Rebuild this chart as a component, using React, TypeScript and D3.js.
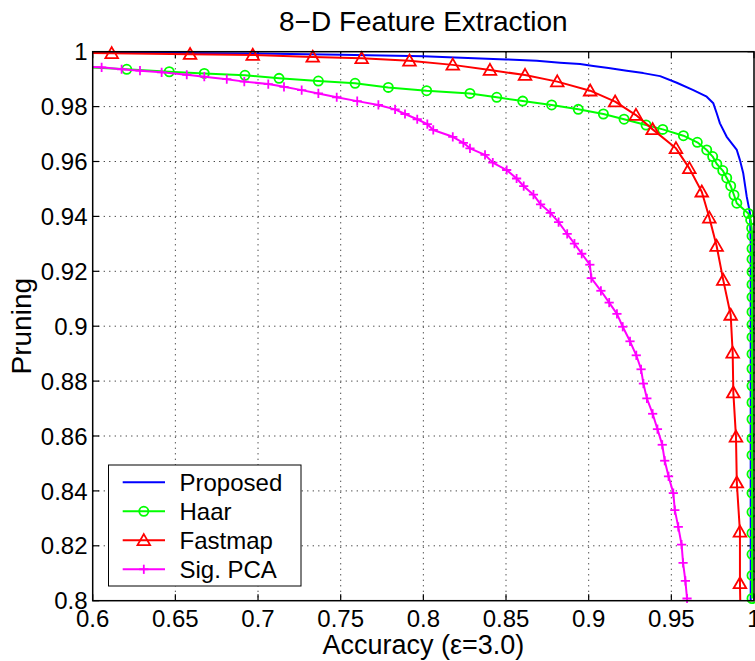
import React from 'react';
import * as d3 from 'd3';

const title = '8\u2212D Feature Extraction';
const xLabel = 'Accuracy (\u03b5=3.0)';
const yLabel = 'Pruning';

const xTicks = [0.6, 0.65, 0.7, 0.75, 0.8, 0.85, 0.9, 0.95, 1];
const xTickLabels = ['0.6', '0.65', '0.7', '0.75', '0.8', '0.85', '0.9', '0.95', '1'];
const yTicks = [0.8, 0.82, 0.84, 0.86, 0.88, 0.9, 0.92, 0.94, 0.96, 0.98, 1];
const yTickLabels = ['0.8', '0.82', '0.84', '0.86', '0.88', '0.9', '0.92', '0.94', '0.96', '0.98', '1'];

const seriesNames = ['Proposed', 'Haar', 'Fastmap', 'Sig. PCA'];
const seriesColors = ['#0000ff', '#00ff00', '#ff0000', '#ff00ff'];
const seriesMarkers = ['none', 'circle', 'triangle', 'plus'];

const proposedX = [0.6, 0.65, 0.7, 0.75, 0.8, 0.85, 0.8686, 0.8827, 0.8948, 0.9028, 0.912, 0.923, 0.933, 0.9432, 0.9533, 0.9633, 0.9714, 0.9754, 0.9775, 0.9794, 0.9835, 0.9896, 0.9915, 0.9935, 0.9956, 0.9976, 0.998, 0.998];
const proposedY = [0.9997, 0.9995, 0.9993, 0.9989, 0.9983, 0.9972, 0.9967, 0.996, 0.9955, 0.9948, 0.9941, 0.9931, 0.9922, 0.9911, 0.9887, 0.986, 0.9836, 0.9812, 0.9775, 0.9739, 0.969, 0.9642, 0.9605, 0.9557, 0.9472, 0.9411, 0.93, 0.8];

const haarX = [0.58, 0.6206, 0.6463, 0.6675, 0.6921, 0.7127, 0.7365, 0.7587, 0.7788, 0.802, 0.8282, 0.8444, 0.8601, 0.8776, 0.8937, 0.9089, 0.9214, 0.9347, 0.9448, 0.9573, 0.9657, 0.9714, 0.975, 0.9775, 0.9811, 0.9835, 0.9859, 0.9879, 0.9896, 0.9966, 0.998, 0.9986,
  0.9988, 0.9988, 0.9988, 0.9988, 0.9988, 0.9988, 0.9988, 0.9988, 0.9988, 0.9988, 0.9988, 0.9988, 0.9988, 0.9988, 0.9988, 0.9988, 0.9988, 0.9988, 0.9988, 0.9988, 0.9988, 0.9988, 0.9988];
const haarY = [0.9948, 0.9936, 0.9927, 0.9921, 0.9914, 0.9903, 0.9893, 0.9885, 0.987, 0.9858, 0.9848, 0.9834, 0.982, 0.9806, 0.979, 0.9773, 0.9754, 0.9733, 0.9717, 0.9694, 0.967, 0.9642, 0.9618, 0.9591, 0.9567, 0.954, 0.9511, 0.9478, 0.9448, 0.9411, 0.9387, 0.9357,
  0.9329, 0.9283, 0.9244, 0.9198, 0.9152, 0.9106, 0.9052, 0.9006, 0.896, 0.8899, 0.8845, 0.8783, 0.8722, 0.8661, 0.8591, 0.853, 0.8461, 0.8392, 0.8323, 0.8246, 0.8169, 0.8092, 0.8008];

const fastmapX = [0.58, 0.6115, 0.6589, 0.6968, 0.7331, 0.7627, 0.7916, 0.8178, 0.8403, 0.8615, 0.881, 0.9009, 0.916, 0.9286, 0.9387, 0.9528, 0.9609, 0.9684, 0.973, 0.9774, 0.9814, 0.9859, 0.9871, 0.9875, 0.9891, 0.9896, 0.9915, 0.9915, 0.992];
const fastmapY = [0.9997, 0.9994, 0.9991, 0.9988, 0.9981, 0.9976, 0.9967, 0.9952, 0.9933, 0.9915, 0.9891, 0.9858, 0.9818, 0.9769, 0.9717, 0.9648, 0.9575, 0.949, 0.9395, 0.9292, 0.9168, 0.9041, 0.8903, 0.8758, 0.8597, 0.843, 0.8251, 0.8063, 0.79];

const sigPcaX = [0.58, 0.6054, 0.6175, 0.6286, 0.6417, 0.6569, 0.6675, 0.6811, 0.6917, 0.7062, 0.7157, 0.7264, 0.7365, 0.7476, 0.76, 0.7728, 0.7829, 0.7889, 0.7963, 0.8024, 0.806, 0.8178, 0.8242, 0.8282, 0.8373, 0.842, 0.8504, 0.8564, 0.8607, 0.8666, 0.8709, 0.8768, 0.8818, 0.887, 0.8914, 0.8958, 0.9007, 0.9016, 0.9074, 0.9124, 0.9171, 0.9206, 0.925, 0.9288, 0.9317, 0.9331, 0.9352, 0.9387, 0.9416, 0.9445, 0.946, 0.9483, 0.9512, 0.9521, 0.9542, 0.9562, 0.9571, 0.9585, 0.9595];
const sigPcaY = [0.9948, 0.9943, 0.9936, 0.9931, 0.9925, 0.9916, 0.9909, 0.99, 0.9891, 0.9882, 0.9872, 0.986, 0.9848, 0.9834, 0.982, 0.9806, 0.979, 0.9773, 0.9754, 0.9736, 0.9715, 0.969, 0.9668, 0.9648, 0.9624, 0.9596, 0.9569, 0.9538, 0.951, 0.9479, 0.9444, 0.9413, 0.9379, 0.9336, 0.9301, 0.9264, 0.9224, 0.9175, 0.9129, 0.9086, 0.9045, 0.8998, 0.8945, 0.8894, 0.8843, 0.8791, 0.8737, 0.8681, 0.8625, 0.8568, 0.851, 0.8453, 0.8392, 0.833, 0.8269, 0.8204, 0.8138, 0.8072, 0.8008];

const seriesX = [proposedX, haarX, fastmapX, sigPcaX];
const seriesY = [proposedY, haarY, fastmapY, sigPcaY];

const W = 755;
const H = 661;
const L = 92.7;
const R = 754;
const T = 51.7;
const B = 600.7;
const FONT = '"Liberation Sans", Arial, Helvetica, sans-serif';

function Marker({ kind, x, y, color }: { kind: string; x: number; y: number; color: string }) {
  if (kind === 'circle') {
    return <circle cx={x} cy={y} r={4.6} fill="none" stroke={color} strokeWidth={1.8} />;
  }
  if (kind === 'triangle') {
    const pts = [[x, y - 6.2], [x + 6.3, y + 4.8], [x - 6.3, y + 4.8]].map((p) => p.join(',')).join(' ');
    return <polygon points={pts} fill="none" stroke={color} strokeWidth={1.8} strokeLinejoin="miter" />;
  }
  if (kind === 'plus') {
    return (
      <g stroke={color} strokeWidth={1.8}>
        <line x1={x - 4.6} x2={x + 4.6} y1={y} y2={y} />
        <line x1={x} x2={x} y1={y - 4.6} y2={y + 4.6} />
      </g>
    );
  }
  return null;
}

export default function App() {
  const x = d3.scaleLinear().domain([0.6, 1]).range([L, R]);
  const y = d3.scaleLinear().domain([0.8, 1]).range([B, T]);
  const line = d3
    .line<[number, number]>()
    .x((d) => x(d[0]))
    .y((d) => y(d[1]));
  const tickLen = 6.5;

  const legendX0 = 108.5;
  const legendY0 = 465;
  const legendW = 192.5;
  const legendH = 121;
  const rowY = (i: number) => legendY0 + 17.3 + i * 29;

  return (
    <svg
      width={W}
      height={H}
      style={{ position: 'absolute', left: 0, top: 0, background: '#fff' }}
      fontFamily={FONT}
    >
      <defs>
        <clipPath id="plotClip">
          <rect x={L} y={T - 8} width={R - L + 8} height={B - T + 16} />
        </clipPath>
        <clipPath id="lineClip">
          <rect x={L} y={T} width={R - L} height={B - T} />
        </clipPath>
      </defs>
      <rect x={0} y={0} width={W} height={H} fill="#fff" />

      {/* grid */}
      <g stroke="#333" strokeWidth={1} strokeDasharray="1.2 4.3">
        {xTicks.slice(1, -1).map((t) => (
          <line key={'gx' + t} x1={x(t)} x2={x(t)} y1={T} y2={B} />
        ))}
        {yTicks.slice(1, -1).map((t) => (
          <line key={'gy' + t} x1={L} x2={R} y1={y(t)} y2={y(t)} />
        ))}
      </g>

      {/* ticks */}
      <g stroke="#000" strokeWidth={1.2}>
        {xTicks.map((t) => (
          <g key={'tx' + t}>
            <line x1={x(t)} x2={x(t)} y1={B} y2={B - tickLen} />
            <line x1={x(t)} x2={x(t)} y1={T} y2={T + tickLen} />
          </g>
        ))}
        {yTicks.map((t) => (
          <g key={'ty' + t}>
            <line x1={L} x2={L + tickLen} y1={y(t)} y2={y(t)} />
            <line x1={R} x2={R - tickLen} y1={y(t)} y2={y(t)} />
          </g>
        ))}
      </g>

      {/* series */}
      {seriesNames.map((name, si) => {
        const pts: [number, number][] = seriesX[si].map((v, i) => [v, seriesY[si][i]]);
        const inside = pts.filter((p) => p[0] >= 0.6 && p[1] >= 0.8);
        return (
          <g key={name}>
            <path
              d={line(pts) || ''}
              fill="none"
              stroke={seriesColors[si]}
              strokeWidth={2}
              strokeLinejoin="round"
              clipPath="url(#lineClip)"
            />
            <g clipPath="url(#plotClip)">
              {inside.map((p, i) => (
                <Marker key={i} kind={seriesMarkers[si]} x={x(p[0])} y={y(p[1])} color={seriesColors[si]} />
              ))}
            </g>
          </g>
        );
      })}

      {/* axes box */}
      <rect x={L} y={T} width={R - L} height={B - T} fill="none" stroke="#000" strokeWidth={1.5} />

      {/* tick labels */}
      <g fontSize={24} fill="#000">
        {xTicks.map((t, i) => (
          <text key={'lx' + t} x={x(t)} y={627} textAnchor="middle">
            {xTickLabels[i]}
          </text>
        ))}
        {yTicks.map((t, i) => (
          <text key={'ly' + t} x={87.5} y={y(t) + 8.6} textAnchor="end">
            {yTickLabels[i]}
          </text>
        ))}
      </g>

      {/* title and labels */}
      <text x={(L + R) / 2} y={31} textAnchor="middle" fontSize={28} fill="#000">
        {title}
      </text>
      <text x={(L + R) / 2} y={654} textAnchor="middle" fontSize={27} fill="#000">
        {xLabel}
      </text>
      <text
        transform={`translate(31,${(T + B) / 2}) rotate(-90)`}
        textAnchor="middle"
        fontSize={28}
        fill="#000"
      >
        {yLabel}
      </text>

      {/* legend */}
      <g>
        <rect x={legendX0} y={legendY0} width={legendW} height={legendH} fill="#fff" stroke="#000" strokeWidth={1} />
        {seriesNames.map((name, i) => (
          <g key={'lg' + name}>
            <line x1={122.7} x2={165} y1={rowY(i)} y2={rowY(i)} stroke={seriesColors[i]} strokeWidth={2} />
            <Marker kind={seriesMarkers[i]} x={143.8} y={rowY(i)} color={seriesColors[i]} />
            <text x={179.5} y={rowY(i) + 8.6} fontSize={24} fill="#000">
              {name}
            </text>
          </g>
        ))}
      </g>
    </svg>
  );
}
